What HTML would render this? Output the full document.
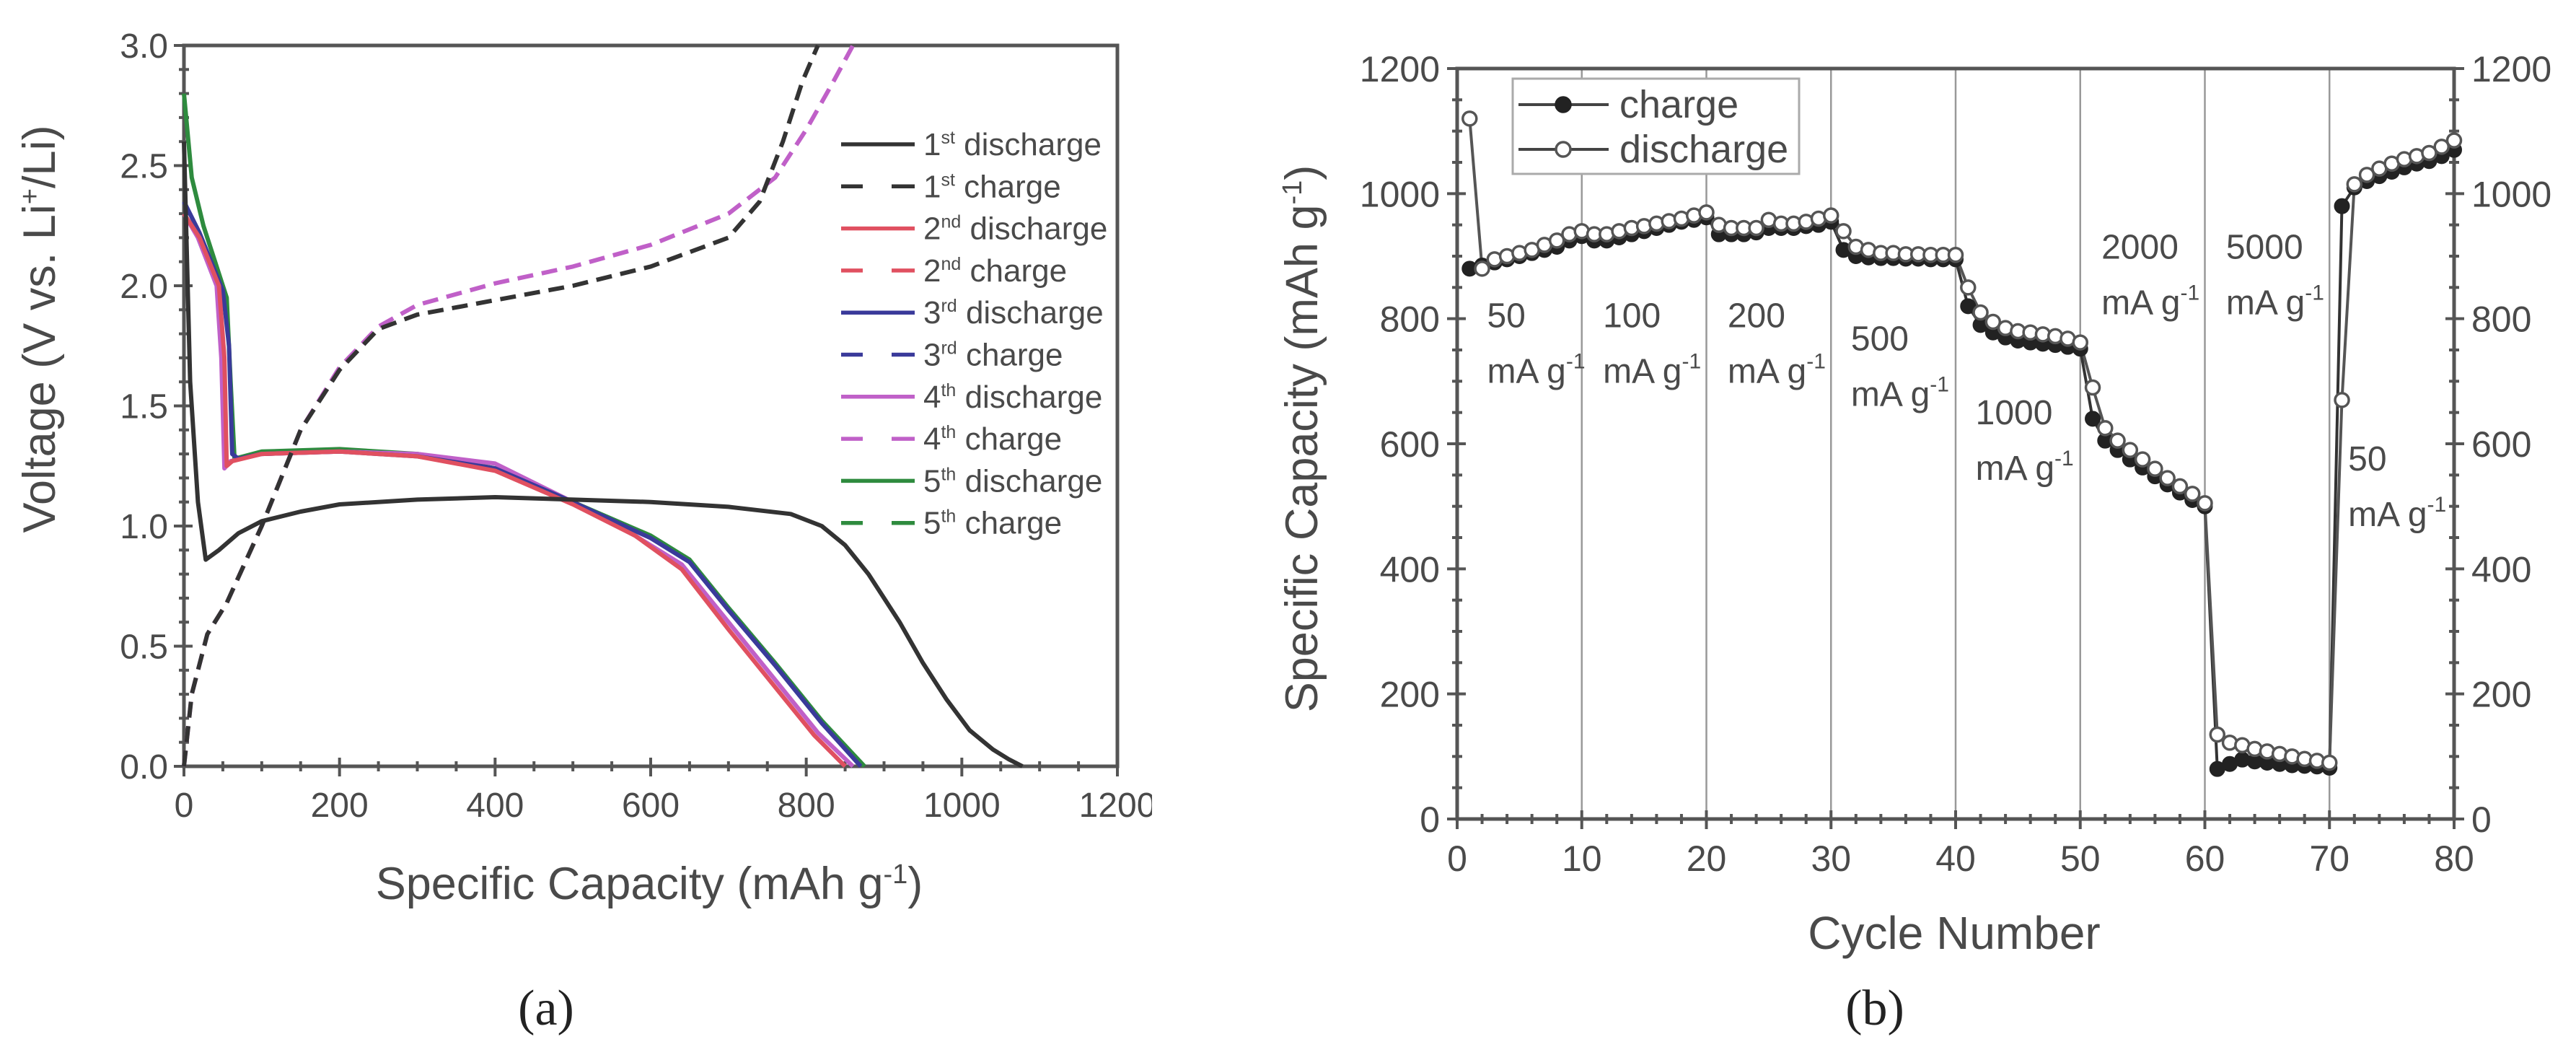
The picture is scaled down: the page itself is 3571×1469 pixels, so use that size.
<!DOCTYPE html>
<html><head><meta charset="utf-8">
<style>
html,body{margin:0;padding:0;background:#fff;}
svg{display:block;}
text{font-family:"Liberation Sans",sans-serif;fill:#4a4a4a;}
.serif{font-family:"Liberation Serif",serif;fill:#222;}
</style></head>
<body>
<svg id="fig" width="3571" height="1469" viewBox="0 0 3571 1469" xmlns="http://www.w3.org/2000/svg"></svg>
<script>
// ---------- Panel (a) data ----------
const capTicks = [0, 200, 400, 600, 800, 1000, 1200];
const voltTicks = [0.0, 0.5, 1.0, 1.5, 2.0, 2.5, 3.0];
const seriesNames = ["1st discharge","1st charge","2nd discharge","2nd charge","3rd discharge","3rd charge","4th discharge","4th charge","5th discharge","5th charge"];
const dis1Cap = [0, 8, 18, 28, 45, 70, 100, 150, 200, 300, 400, 500, 600, 700, 780, 820, 850, 880, 900, 920, 950, 980, 1010, 1040, 1060, 1078];
const dis1V   = [2.6, 1.6, 1.1, 0.86, 0.9, 0.97, 1.02, 1.06, 1.09, 1.11, 1.12, 1.11, 1.1, 1.08, 1.05, 1.0, 0.92, 0.8, 0.7, 0.6, 0.43, 0.28, 0.15, 0.07, 0.03, 0.0];
const dis2Cap = [0, 20, 45, 52, 55, 62, 100, 200, 300, 400, 500, 580, 640, 700, 760, 810, 850];
const dis2V   = [2.3, 2.2, 2.0, 1.7, 1.25, 1.27, 1.3, 1.31, 1.29, 1.23, 1.09, 0.96, 0.82, 0.57, 0.33, 0.13, 0.0];
const dis3Cap = [0, 20, 50, 58, 62, 70, 100, 200, 300, 400, 500, 600, 650, 700, 760, 820, 870];
const dis3V   = [2.35, 2.22, 1.98, 1.75, 1.3, 1.28, 1.3, 1.31, 1.29, 1.24, 1.1, 0.95, 0.85, 0.65, 0.42, 0.18, 0.0];
const dis4Cap = [0, 18, 42, 48, 52, 60, 100, 200, 300, 400, 500, 580, 640, 700, 760, 815, 860];
const dis4V   = [2.3, 2.2, 2.0, 1.7, 1.24, 1.27, 1.3, 1.31, 1.3, 1.26, 1.1, 0.96, 0.84, 0.6, 0.36, 0.14, 0.0];
const dis5Cap = [0, 10, 25, 55, 60, 65, 100, 200, 300, 400, 500, 600, 650, 700, 760, 820, 875];
const dis5V   = [2.8, 2.45, 2.25, 1.95, 1.6, 1.28, 1.31, 1.32, 1.3, 1.24, 1.1, 0.96, 0.86, 0.66, 0.43, 0.19, 0.0];
const chg1Cap = [0, 10, 30, 55, 100, 150, 200, 250, 300, 400, 500, 600, 700, 740, 770, 795, 815];
const chg1V   = [0.0, 0.3, 0.55, 0.68, 1.0, 1.4, 1.65, 1.82, 1.88, 1.94, 2.0, 2.08, 2.2, 2.35, 2.6, 2.85, 3.0];
const chgNCap = [0, 10, 30, 55, 100, 150, 200, 250, 300, 400, 500, 600, 700, 760, 800, 835, 860];
const chgNV   = [0.0, 0.3, 0.55, 0.68, 1.0, 1.4, 1.66, 1.83, 1.92, 2.01, 2.08, 2.17, 2.3, 2.45, 2.65, 2.85, 3.0];

// ---------- Panel (b) data ----------
const cycleTicks = [0, 10, 20, 30, 40, 50, 60, 70, 80];
const capBTicks = [0, 200, 400, 600, 800, 1000, 1200];
const chargeVals = [880,885,890,895,900,905,910,915,925,932,
 925,925,930,935,940,945,950,955,958,962,
 935,935,935,938,945,945,945,948,950,955,
 910,900,898,897,897,896,896,895,895,895,
 820,790,778,770,765,762,760,758,755,752,
 640,605,590,575,562,548,535,522,510,500,
 80,88,95,92,90,88,86,85,84,82,
 980,1010,1020,1028,1035,1042,1048,1052,1060,1070];
const dischargeVals = [1120,880,895,900,905,910,918,925,935,940,
 935,935,940,945,948,952,956,960,965,970,
 950,945,945,945,958,952,952,955,960,965,
 940,915,910,905,905,903,903,902,902,902,
 850,810,795,785,780,778,775,772,768,762,
 690,625,605,590,575,560,545,532,520,505,
 135,122,118,112,108,104,100,96,93,90,
 670,1015,1030,1040,1048,1055,1060,1065,1075,1085];
const rateLabels = ["50","100","200","500","1000","2000","5000","50"];
const rateCycle = [2.4, 11.7, 21.7, 31.6, 41.6, 51.7, 61.7, 71.5];
const rateLevel = [807, 807, 807, 770, 652, 917, 917, 578];

const NS = "http://www.w3.org/2000/svg";
const svg = document.getElementById("fig");
function el(tag, attrs, parent, txt) {
  const e = document.createElementNS(NS, tag);
  for (const k in attrs) e.setAttribute(k, attrs[k]);
  if (txt !== undefined) e.textContent = txt;
  (parent || svg).appendChild(e);
  return e;
}

// ---------- Panel (a) ----------
const A = {x0:255, x1:1549, y0:1062, y1:63};
const ax = v => A.x0 + (v - 0) / 1200 * (A.x1 - A.x0);
const ay = v => A.y0 - v / 3 * (A.y0 - A.y1);
const gA = el("g", {});



const frameA = el("rect", {x:A.x0, y:A.y1, width:A.x1-A.x0, height:A.y0-A.y1, fill:"none", stroke:"#555", "stroke-width":5}, gA);



for (let v = 0; v <= 1200; v += 50) {
  const major = v % 200 === 0;
  el("line", {x1:ax(v), x2:ax(v), y1:A.y0-(major?12:7), y2:A.y0+(major?14:7), stroke:"#555", "stroke-width":4}, gA);
}
for (let i = 0; i <= 30; i++) {
  const v = i / 10, major = i % 5 === 0;
  el("line", {x1:A.x0-(major?14:7), x2:A.x0+(major?12:7), y1:ay(v), y2:ay(v), stroke:"#555", "stroke-width":4}, gA);
}
capTicks.forEach(v => {
  const t = el("text", {x:ax(v), y:A.y0+70, "font-size":48, "text-anchor":"middle"}, gA, String(v));
  
  
});
voltTicks.forEach(v => {
  const t = el("text", {x:A.x0-22, y:ay(v)+17, "font-size":48, "text-anchor":"end"}, gA, v.toFixed(1));
  
  
});
const xtA = el("text", {x:900, y:1246, "font-size":63, "text-anchor":"middle"}, gA);


xtA.innerHTML = 'Specific Capacity (mAh g<tspan dy="-22" font-size="38">-1</tspan><tspan dy="22">)</tspan>';
const ytA = el("text", {x:0, y:0, "font-size":63, "text-anchor":"middle", transform:"translate(76,456) rotate(-90)"}, gA);


ytA.innerHTML = 'Voltage (V vs. Li<tspan dy="-22" font-size="38">+</tspan><tspan dy="22">/Li)</tspan>';

function pathOf(xs, ys, fx, fy) {
  return xs.map((x, i) => (i ? "L" : "M") + fx(x).toFixed(1) + "," + fy(ys[i]).toFixed(1)).join(" ");
}
const curves = [
  {c:dis5Cap, v:dis5V, col:"#2e8b3e", dash:null, n:"5th-discharge-curve"},
  {c:dis4Cap, v:dis4V, col:"#c060c8", dash:null, n:"4th-discharge-curve"},
  {c:dis3Cap, v:dis3V, col:"#3a3a9a", dash:null, n:"3rd-discharge-curve"},
  {c:dis2Cap, v:dis2V, col:"#e05060", dash:null, n:"2nd-discharge-curve"},
  {c:chgNCap, v:chgNV, col:"#c060c8", dash:"22,12", n:"2nd-5th-charge-curve"},
  {c:chg1Cap, v:chg1V, col:"#333", dash:"22,12", n:"1st-charge-curve"},
  {c:dis1Cap, v:dis1V, col:"#333", dash:null, n:"1st-discharge-curve"}
];
curves.forEach(cv => {
  const p = el("path", {d:pathOf(cv.c, cv.v, ax, ay), fill:"none", stroke:cv.col, "stroke-width":6, "stroke-linejoin":"round"}, gA);
  if (cv.dash) p.setAttribute("stroke-dasharray", cv.dash);
  
  
});

const legCols = ["#333","#333","#e05060","#e05060","#3a3a9a","#3a3a9a","#c060c8","#c060c8","#2e8b3e","#2e8b3e"];
const sup = ["st","st","nd","nd","rd","rd","th","th","th","th"];
seriesNames.forEach((nm, i) => {
  const y = 200 + i * 58.3;
  const ln = el("line", {x1:1166, x2:1268, y1:y, y2:y, stroke:legCols[i], "stroke-width":5.5}, gA);
  if (i % 2) ln.setAttribute("stroke-dasharray", "30,40,32");
  
  
  const t = el("text", {x:1280, y:y+15, "font-size":44}, gA);
  
  
  const parts = nm.split(" ");
  t.innerHTML = parts[0][0] + '<tspan dy="-16" font-size="25">' + sup[i] + '</tspan><tspan dy="16"> ' + parts[1] + '</tspan>';
});
const maskA = el("rect", {x:1597, y:1080, width:150, height:100, fill:"#fff"}, svg);


const lblA = el("text", {x:757, y:1420, "font-size":70, "text-anchor":"middle", class:"serif"}, svg, "(a)");



// ---------- Panel (b) ----------
const B = {x0:2020, x1:3402, y0:1135, y1:95};
const bx = c => B.x0 + c / 80 * (B.x1 - B.x0);
const by = v => B.y0 - v / 1200 * (B.y0 - B.y1);
const gB = el("g", {});



[10,20,30,40,50,60,70].forEach(c => {
  const g = el("line", {x1:bx(c), x2:bx(c), y1:B.y1, y2:B.y0, stroke:"#999", "stroke-width":2.5}, gB);
  
  
});
const frameB = el("rect", {x:B.x0, y:B.y1, width:B.x1-B.x0, height:B.y0-B.y1, fill:"none", stroke:"#555", "stroke-width":5}, gB);


for (let c = 0; c <= 80; c += 2) {
  const major = c % 10 === 0;
  el("line", {x1:bx(c), x2:bx(c), y1:B.y0-(major?12:7), y2:B.y0+(major?14:7), stroke:"#555", "stroke-width":4}, gB);
}
for (let v = 0; v <= 1200; v += 50) {
  const major = v % 200 === 0;
  el("line", {x1:B.x0-(major?14:7), x2:B.x0+(major?12:7), y1:by(v), y2:by(v), stroke:"#555", "stroke-width":4}, gB);
  el("line", {x1:B.x1-(major?12:7), x2:B.x1+(major?14:7), y1:by(v), y2:by(v), stroke:"#555", "stroke-width":4}, gB);
}
cycleTicks.forEach(c => {
  const t = el("text", {x:bx(c), y:B.y0+72, "font-size":50, "text-anchor":"middle"}, gB, String(c));
  
  
});
capBTicks.forEach(v => {
  const t = el("text", {x:B.x0-24, y:by(v)+18, "font-size":50, "text-anchor":"end"}, gB, String(v));
  
  
  const t2 = el("text", {x:B.x1+24, y:by(v)+18, "font-size":50, "text-anchor":"start"}, gB, String(v));
  
  
});
const xtB = el("text", {x:2709, y:1315, "font-size":64, "text-anchor":"middle"}, gB, "Cycle Number");


const ytB = el("text", {x:0, y:0, "font-size":63, "text-anchor":"middle", transform:"translate(1826,608) rotate(-90)"}, gB);


ytB.innerHTML = 'Specific Capacity (mAh g<tspan dy="-22" font-size="38">-1</tspan><tspan dy="22">)</tspan>';

function seriesPath(vals) {
  return vals.map((v, i) => (i ? "L" : "M") + bx(i + 1).toFixed(1) + "," + by(v).toFixed(1)).join(" ");
}
const lc = el("path", {d:seriesPath(chargeVals), fill:"none", stroke:"#333", "stroke-width":4}, gB);


const ld = el("path", {d:seriesPath(dischargeVals), fill:"none", stroke:"#555", "stroke-width":4}, gB);


chargeVals.forEach((v, i) => {
  const m = el("circle", {cx:bx(i + 1), cy:by(v), r:10, fill:"#222", stroke:"#222", "stroke-width":2}, gB);
  
  
});
dischargeVals.forEach((v, i) => {
  const m = el("circle", {cx:bx(i + 1), cy:by(v), r:9.5, fill:"#fff", stroke:"#555", "stroke-width":3.5}, gB);
  
  
});
rateLabels.forEach((s, i) => {
  const x = bx(rateCycle[i]), y = by(rateLevel[i]);
  const t1 = el("text", {x:x, y:y+18, "font-size":48}, gB, s);
  
  
  const t2 = el("text", {x:x, y:y+95, "font-size":48}, gB);
  
  
  t2.innerHTML = 'mA g<tspan dy="-20" font-size="30">-1</tspan>';
});

// legend b
const lgB = el("rect", {x:2097, y:109, width:397, height:132, fill:"#fff", stroke:"#aaa", "stroke-width":3}, gB);


[["charge", 145, true], ["discharge", 207, false]].forEach(r => {
  const l = el("line", {x1:2105, x2:2230, y1:r[1], y2:r[1], stroke:"#444", "stroke-width":4}, gB);
  
  
  const c = el("circle", {cx:2167, cy:r[1], r:10, fill:r[2] ? "#222" : "#fff", stroke:r[2] ? "#222" : "#555", "stroke-width":3.5}, gB);
  
  
  const t = el("text", {x:2245, y:r[1]+18, "font-size":54}, gB, r[0]);
  
  
});
const lblB = el("text", {x:2599, y:1420, "font-size":70, "text-anchor":"middle", class:"serif"}, svg, "(b)");


</script>
</body></html>
